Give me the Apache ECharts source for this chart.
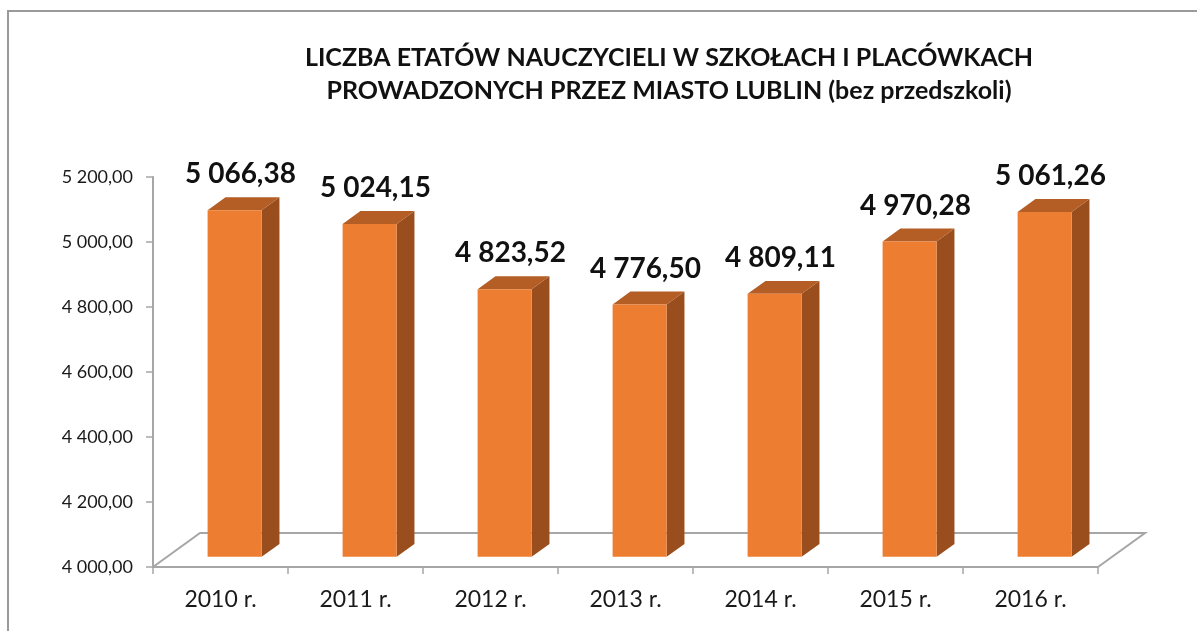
<!DOCTYPE html>
<html>
<head>
<meta charset="utf-8">
<title>Liczba etatów nauczycieli</title>
<script src="https://cdn.jsdelivr.net/npm/echarts@6/dist/echarts.min.js"></script>
<style>
  html, body { margin: 0; padding: 0; background: #ffffff; }
  #chart { width: 1197px; height: 631px; }
</style>
</head>
<body>
<div id="chart"></div>
<script>
// Teacher full-time posts in schools run by the city of Lublin
const years = ['2010 r.', '2011 r.', '2012 r.', '2013 r.', '2014 r.', '2015 r.', '2016 r.'];
const posts = [5066.38, 5024.15, 4823.52, 4776.50, 4809.11, 4970.28, 5061.26];
const yMin = 4000;
const yMax = 5200;
const yStep = 200;

const titleLines = [
  'LICZBA ETATÓW NAUCZYCIELI W SZKOŁACH I PLACÓWKACH',
  'PROWADZONYCH PRZEZ MIASTO LUBLIN (bez przedszkoli)'
];

// Polish number format: space as thousands separator, comma as decimal mark
function fmt(v) {
  const parts = v.toFixed(2).split('.');
  const intPart = parts[0].replace(/\B(?=(\d{3})+(?!\d))/g, ' ');
  return intPart + ',' + parts[1];
}

// 3D look: depth offset of the floor and of the bars inside it
const DEPTH_X = 47, DEPTH_Y = -34;
const BAR_START = 0.30, BAR_DEPTH = 0.38, BAR_WIDTH = 0.40;
const FONT = 'Lato, "Open Sans", sans-serif';

const chart = echarts.init(document.getElementById('chart'), null, { renderer: 'canvas' });

function renderFloor(params, api) {
  const cs = params.coordSys;
  const x0 = cs.x, x1 = cs.x + cs.width, y0 = cs.y + cs.height;
  return {
    type: 'polyline',
    shape: {
      points: [
        [x0, y0],
        [x0 + DEPTH_X, y0 + DEPTH_Y],
        [x1 + DEPTH_X, y0 + DEPTH_Y],
        [x1, y0]
      ]
    },
    style: { stroke: '#a6a6a6', lineWidth: 2, fill: null },
    silent: true
  };
}

function renderBar(params, api) {
  const idx = api.value(0);
  const val = api.value(1);
  const top = api.coord([idx, val]);
  const base = api.coord([idx, yMin]);
  const band = api.size([1, 0])[0];
  const w = band * BAR_WIDTH;
  const sx = DEPTH_X * BAR_START, sy = DEPTH_Y * BAR_START;
  const dx = DEPTH_X * BAR_DEPTH, dy = DEPTH_Y * BAR_DEPTH;
  const l = top[0] + sx - w / 2;
  const r = l + w;
  const t = top[1] + sy;
  const b = base[1] + sy;
  return {
    type: 'group',
    children: [
      {
        type: 'polygon',
        shape: { points: [[r, t], [r + dx, t + dy], [r + dx, b + dy], [r, b]] },
        style: { fill: '#9a4e1d' }
      },
      {
        type: 'polygon',
        shape: { points: [[l, t], [l + dx, t + dy], [r + dx, t + dy], [r, t]] },
        style: { fill: '#b45d24' }
      },
      {
        type: 'rect',
        shape: { x: l, y: t, width: w, height: b - t },
        style: { fill: '#ed7d31' }
      },
      {
        type: 'text',
        x: top[0] + 20,
        y: t + dy - 23,
        style: {
          text: fmt(val),
          fill: '#111111',
          font: 'bold 28px ' + FONT,
          align: 'center',
          verticalAlign: 'middle'
        }
      }
    ]
  };
}

chart.setOption({
  backgroundColor: '#ffffff',
  animation: false,
  title: {
    text: titleLines.join('\n'),
    left: 664,
    top: 36,
    textAlign: 'center',
    textStyle: {
      fontFamily: FONT,
      fontWeight: 'bold',
      fontSize: 25,
      lineHeight: 33,
      color: '#111111'
    }
  },
  graphic: [
    {
      type: 'rect',
      shape: { x: 8, y: 11, width: 1400, height: 800 },
      style: { fill: null, stroke: '#9a9a9a', lineWidth: 2 },
      silent: true,
      z: 100
    }
  ],
  grid: { left: 153, right: 99, top: 177, bottom: 64 },
  xAxis: {
    type: 'category',
    data: years,
    boundaryGap: true,
    axisLine: { show: true, lineStyle: { color: '#a6a6a6', width: 2 } },
    axisTick: { show: true, alignWithLabel: false, length: 7, lineStyle: { color: '#a6a6a6', width: 1.5 } },
    axisLabel: { margin: 21, fontFamily: FONT, fontSize: 23, color: '#1a1a1a' },
    splitLine: { show: false }
  },
  yAxis: {
    type: 'value',
    min: yMin,
    max: yMax,
    interval: yStep,
    axisLine: { show: true, lineStyle: { color: '#a6a6a6', width: 2 } },
    axisTick: { show: true, length: 7, lineStyle: { color: '#a6a6a6', width: 1.5 } },
    axisLabel: { margin: 20, fontFamily: FONT, fontSize: 18, color: '#1a1a1a', formatter: fmt },
    splitLine: { show: false }
  },
  series: [
    {
      type: 'custom',
      name: 'floor',
      renderItem: renderFloor,
      data: [[0, yMin]],
      z: 1,
      silent: true
    },
    {
      type: 'custom',
      name: 'etaty',
      renderItem: renderBar,
      encode: { x: 0, y: 1 },
      data: posts.map((v, i) => [i, v]),
      z: 2
    }
  ]
});
</script>
</body>
</html>
